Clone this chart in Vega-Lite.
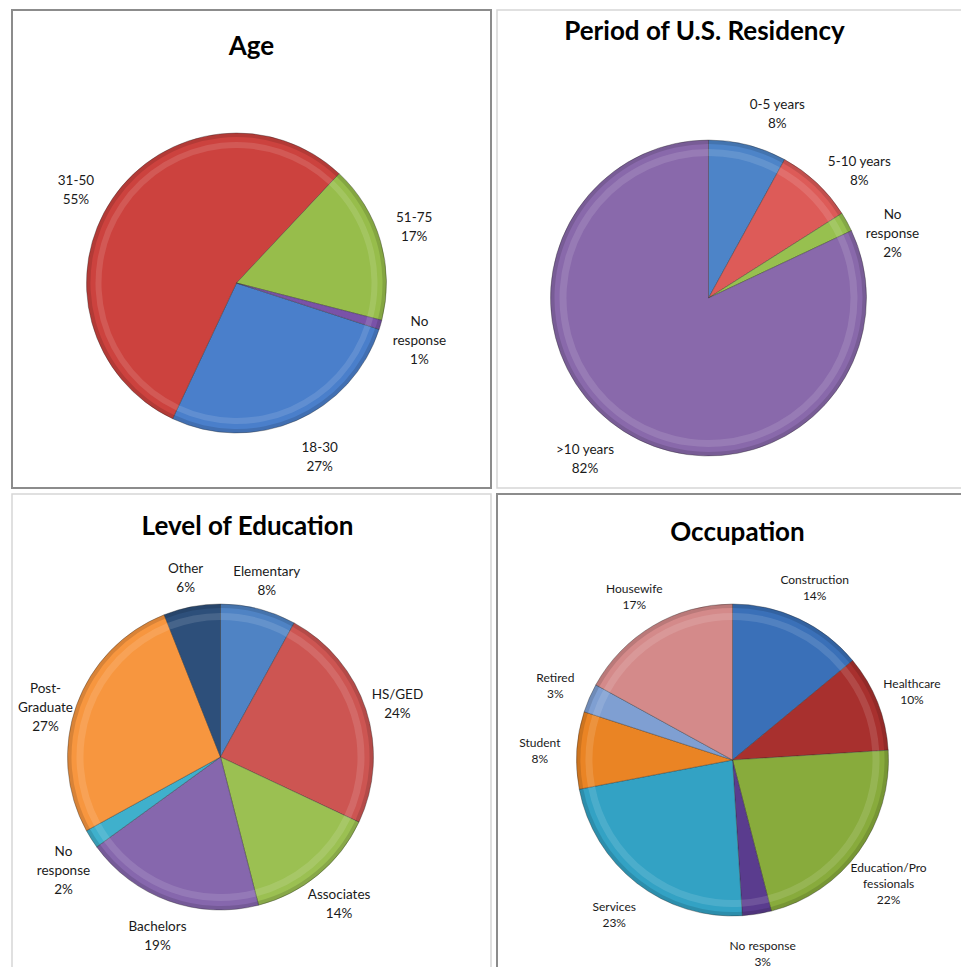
{
  "$schema": "https://vega.github.io/schema/vega-lite/v6.json",
  "background": "white",
  "padding": {"left": 11, "top": 9, "right": 0, "bottom": 0},
  "config": {
    "view": {"stroke": null},
    "font": "Lato",
    "title": {"font": "Lato", "fontSize": 26, "fontWeight": "bold", "color": "#000000", "frame": "group", "baseline": "middle", "offset": 0},
    "text": {"font": "Lato", "fontSize": 13.5, "color": "#1a1a1a"},
    "concat": {"spacing": 4}
  },
  "datasets": {
    "frame": [{"k": 1}],
    "age": [
      {"cat": "18-30", "label": "18-30", "value": 27, "i": 1},
      {"cat": "31-50", "label": "31-50", "value": 55, "i": 2},
      {"cat": "51-75", "label": "51-75", "value": 17, "i": 3},
      {"cat": "No response", "label": "No\nresponse", "value": 1, "i": 4}
    ],
    "residency": [
      {"cat": "0-5 years", "label": "0-5 years", "value": 8, "i": 1},
      {"cat": "5-10 years", "label": "5-10 years", "value": 8, "i": 2},
      {"cat": "No response", "label": "No\nresponse", "value": 2, "i": 3},
      {"cat": ">10 years", "label": ">10 years", "value": 82, "i": 4}
    ],
    "education": [
      {"cat": "Elementary", "label": "Elementary", "value": 8, "i": 1},
      {"cat": "HS/GED", "label": "HS/GED", "value": 24, "i": 2},
      {"cat": "Associates", "label": "Associates", "value": 14, "i": 3},
      {"cat": "Bachelors", "label": "Bachelors", "value": 19, "i": 4},
      {"cat": "No response", "label": "No\nresponse", "value": 2, "i": 5},
      {"cat": "Post-Graduate", "label": "Post-\nGraduate", "value": 27, "i": 6},
      {"cat": "Other", "label": "Other", "value": 6, "i": 7}
    ],
    "occupation": [
      {"cat": "Construction", "label": "Construction", "value": 14, "i": 1},
      {"cat": "Healthcare", "label": "Healthcare", "value": 10, "i": 2},
      {"cat": "Education/Professionals", "label": "Education/Pro\nfessionals", "value": 22, "i": 3},
      {"cat": "No response", "label": "No response", "value": 3, "i": 4},
      {"cat": "Services", "label": "Services", "value": 23, "i": 5},
      {"cat": "Student", "label": "Student", "value": 8, "i": 6},
      {"cat": "Retired", "label": "Retired", "value": 3, "i": 7},
      {"cat": "Housewife", "label": "Housewife", "value": 17, "i": 8}
    ]
  },
  "resolve": {"scale": {"color": "independent", "theta": "independent"}},
  "vconcat": [
    {
      "resolve": {"scale": {"color": "independent", "theta": "independent"}},
      "hconcat": [
        {
          "width": 479, "height": 478,
          "title": {"text": "Age", "dy": 55},
          "layer": [
            {
              "data": {"name": "frame"},
              "mark": {"type": "rect", "fill": null, "stroke": "#8c8c8c", "strokeWidth": 2},
              "encoding": {}
            },
            {
              "data": {"name": "age"},
              "mark": {"type": "arc", "outerRadius": 150, "xOffset": -15, "yOffset": 34, "stroke": "#2b2b2b", "strokeWidth": 0.6, "strokeOpacity": 0.6},
              "encoding": {
                "theta": {"field": "value", "type": "quantitative", "stack": true, "scale": {"range": [1.885, 8.168]}},
                "order": {"field": "i", "type": "ordinal"},
                "color": {"field": "cat", "type": "nominal", "legend": null,
                  "scale": {"domain": ["18-30", "31-50", "51-75", "No response"], "range": ["#4a7fcb", "#cc423e", "#97bd4b", "#7a52a8"]}}
              }
            },
            {
              "data": {"name": "age"},
              "mark": {"type": "arc", "innerRadius": 135, "outerRadius": 141, "xOffset": -15, "yOffset": 34, "fill": "#ffffff", "fillOpacity": 0.12},
              "encoding": {
                "theta": {"field": "value", "type": "quantitative", "stack": true},
                "order": {"field": "i", "type": "ordinal"}
              }
            },
            {
              "data": {"name": "age"},
              "mark": {"type": "arc", "innerRadius": 146, "outerRadius": 150, "xOffset": -15, "yOffset": 34, "fill": "#000000", "fillOpacity": 0.12},
              "encoding": {
                "theta": {"field": "value", "type": "quantitative", "stack": true},
                "order": {"field": "i", "type": "ordinal"}
              }
            },
            {
              "data": {"name": "age"},
              "transform": [{"calculate": "datum.label + '\\n' + datum.value + '%'", "as": "txt"}],
              "mark": {"type": "text", "radius": 188, "thetaOffset": -0.05, "xOffset": -15, "yOffset": 30, "lineBreak": "\n", "align": "center", "baseline": "middle", "lineHeight": 19},
              "encoding": {
                "theta": {"field": "value", "type": "quantitative", "stack": true},
                "order": {"field": "i", "type": "ordinal"},
                "text": {"field": "txt", "type": "nominal"}
              }
            }
          ]
        },
        {
          "width": 465, "height": 478,
          "title": {"text": "Period of U.S. Residency", "dy": 40, "dx": -25},
          "layer": [
            {
              "data": {"name": "frame"},
              "mark": {"type": "rect", "fill": null, "stroke": "#d6d6d6", "strokeWidth": 1.5},
              "encoding": {}
            },
            {
              "data": {"name": "residency"},
              "mark": {"type": "arc", "outerRadius": 158, "xOffset": -21, "yOffset": 49, "stroke": "#2b2b2b", "strokeWidth": 0.6, "strokeOpacity": 0.6},
              "encoding": {
                "theta": {"field": "value", "type": "quantitative", "stack": true, "scale": {"range": [0, 6.2832]}},
                "order": {"field": "i", "type": "ordinal"},
                "color": {"field": "cat", "type": "nominal", "legend": null,
                  "scale": {"domain": ["0-5 years", "5-10 years", "No response", ">10 years"], "range": ["#4d84c8", "#dd5b58", "#97c04f", "#8969ab"]}}
              }
            },
            {
              "data": {"name": "residency"},
              "mark": {"type": "arc", "innerRadius": 142, "outerRadius": 149, "xOffset": -21, "yOffset": 49, "fill": "#ffffff", "fillOpacity": 0.12},
              "encoding": {
                "theta": {"field": "value", "type": "quantitative", "stack": true},
                "order": {"field": "i", "type": "ordinal"}
              }
            },
            {
              "data": {"name": "residency"},
              "mark": {"type": "arc", "innerRadius": 154, "outerRadius": 158, "xOffset": -21, "yOffset": 49, "fill": "#000000", "fillOpacity": 0.12},
              "encoding": {
                "theta": {"field": "value", "type": "quantitative", "stack": true},
                "order": {"field": "i", "type": "ordinal"}
              }
            },
            {
              "data": {"name": "residency"},
              "transform": [{"calculate": "datum.label + '\\n' + datum.value + '%'", "as": "txt"}],
              "mark": {"type": "text", "radius": 200, "thetaOffset": 0.1, "xOffset": -21, "yOffset": 44, "lineBreak": "\n", "align": "center", "baseline": "middle", "lineHeight": 19},
              "encoding": {
                "theta": {"field": "value", "type": "quantitative", "stack": true},
                "order": {"field": "i", "type": "ordinal"},
                "text": {"field": "txt", "type": "nominal"}
              }
            }
          ]
        }
      ]
    },
    {
      "resolve": {"scale": {"color": "independent", "theta": "independent"}},
      "hconcat": [
        {
          "width": 479, "height": 476,
          "title": {"text": "Level of Education", "dy": 51, "dx": -4},
          "layer": [
            {
              "data": {"name": "frame"},
              "mark": {"type": "rect", "fill": null, "stroke": "#d6d6d6", "strokeWidth": 1.5},
              "encoding": {}
            },
            {
              "data": {"name": "education"},
              "mark": {"type": "arc", "outerRadius": 153, "xOffset": -31, "yOffset": 25, "stroke": "#2b2b2b", "strokeWidth": 0.6, "strokeOpacity": 0.6},
              "encoding": {
                "theta": {"field": "value", "type": "quantitative", "stack": true, "scale": {"range": [0, 6.2832]}},
                "order": {"field": "i", "type": "ordinal"},
                "color": {"field": "cat", "type": "nominal", "legend": null,
                  "scale": {"domain": ["Elementary", "HS/GED", "Associates", "Bachelors", "No response", "Post-Graduate", "Other"],
                    "range": ["#4f83c4", "#cd5552", "#9bc052", "#8667ad", "#3fb0cc", "#f7963f", "#2d4f7a"]}}
              }
            },
            {
              "data": {"name": "education"},
              "mark": {"type": "arc", "innerRadius": 137, "outerRadius": 144, "xOffset": -31, "yOffset": 25, "fill": "#ffffff", "fillOpacity": 0.12},
              "encoding": {
                "theta": {"field": "value", "type": "quantitative", "stack": true},
                "order": {"field": "i", "type": "ordinal"}
              }
            },
            {
              "data": {"name": "education"},
              "mark": {"type": "arc", "innerRadius": 149, "outerRadius": 153, "xOffset": -31, "yOffset": 25, "fill": "#000000", "fillOpacity": 0.12},
              "encoding": {
                "theta": {"field": "value", "type": "quantitative", "stack": true},
                "order": {"field": "i", "type": "ordinal"}
              }
            },
            {
              "data": {"name": "education"},
              "transform": [{"calculate": "datum.label + '\\n' + datum.value + '%'", "as": "txt"}],
              "mark": {"type": "text", "radius": 186, "xOffset": -31, "yOffset": 20, "lineBreak": "\n", "align": "center", "baseline": "middle", "lineHeight": 19},
              "encoding": {
                "theta": {"field": "value", "type": "quantitative", "stack": true},
                "order": {"field": "i", "type": "ordinal"},
                "text": {"field": "txt", "type": "nominal"}
              }
            }
          ]
        },
        {
          "width": 465, "height": 476,
          "title": {"text": "Occupation", "dy": 57, "dx": 8},
          "layer": [
            {
              "data": {"name": "frame"},
              "mark": {"type": "rect", "fill": null, "stroke": "#8c8c8c", "strokeWidth": 2},
              "encoding": {}
            },
            {
              "data": {"name": "occupation"},
              "mark": {"type": "arc", "outerRadius": 156, "xOffset": 3, "yOffset": 28, "stroke": "#2b2b2b", "strokeWidth": 0.6, "strokeOpacity": 0.6},
              "encoding": {
                "theta": {"field": "value", "type": "quantitative", "stack": true, "scale": {"range": [0, 6.2832]}},
                "order": {"field": "i", "type": "ordinal"},
                "color": {"field": "cat", "type": "nominal", "legend": null,
                  "scale": {"domain": ["Construction", "Healthcare", "Education/Professionals", "No response", "Services", "Student", "Retired", "Housewife"],
                    "range": ["#3a70b8", "#a8302e", "#88ab3c", "#5a3c8e", "#33a2c4", "#ea8424", "#7f9fd2", "#d48a8a"]}}
              }
            },
            {
              "data": {"name": "occupation"},
              "mark": {"type": "arc", "innerRadius": 140, "outerRadius": 147, "xOffset": 3, "yOffset": 28, "fill": "#ffffff", "fillOpacity": 0.12},
              "encoding": {
                "theta": {"field": "value", "type": "quantitative", "stack": true},
                "order": {"field": "i", "type": "ordinal"}
              }
            },
            {
              "data": {"name": "occupation"},
              "mark": {"type": "arc", "innerRadius": 152, "outerRadius": 156, "xOffset": 3, "yOffset": 28, "fill": "#000000", "fillOpacity": 0.12},
              "encoding": {
                "theta": {"field": "value", "type": "quantitative", "stack": true},
                "order": {"field": "i", "type": "ordinal"}
              }
            },
            {
              "data": {"name": "occupation"},
              "transform": [{"calculate": "datum.label + '\\n' + datum.value + '%'", "as": "txt"}],
              "mark": {"type": "text", "radius": 193, "xOffset": 3, "yOffset": 23, "lineBreak": "\n", "align": "center", "baseline": "middle", "lineHeight": 16, "fontSize": 12},
              "encoding": {
                "theta": {"field": "value", "type": "quantitative", "stack": true},
                "order": {"field": "i", "type": "ordinal"},
                "text": {"field": "txt", "type": "nominal"}
              }
            }
          ]
        }
      ]
    }
  ]
}
